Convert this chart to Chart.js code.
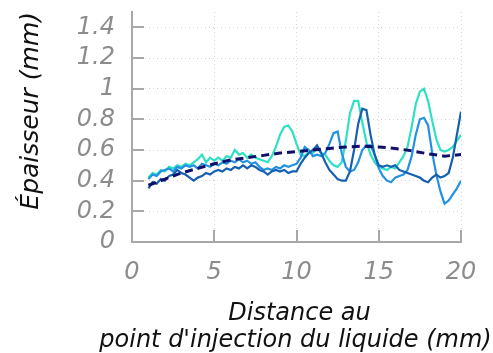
<!DOCTYPE html>
<html>
<head>
<meta charset="utf-8">
<script src="https://cdn.jsdelivr.net/npm/chart.js@4/dist/chart.umd.min.js"></script>
<style>
  html, body { margin: 0; padding: 0; background: #fff; }
  #wrap { width: 493px; height: 353px; }
</style>
</head>
<body>
<div id="wrap"><canvas id="chart"></canvas></div>
<script>
// distance au point d'injection (mm)
const distance = [
  1.0, 1.25, 1.5, 1.75, 2.0, 2.25, 2.5, 2.75, 3.0, 3.25, 3.5, 3.75,
  4.0, 4.25, 4.5, 4.75, 5.0, 5.25, 5.5, 5.75, 6.0, 6.25, 6.5, 6.75,
  7.0, 7.25, 7.5, 7.75, 8.0, 8.25, 8.5, 8.75, 9.0, 9.25, 9.5, 9.75,
  10.0, 10.25, 10.5, 10.75, 11.0, 11.25, 11.5, 11.75, 12.0, 12.25, 12.5, 12.75,
  13.0, 13.25, 13.5, 13.75, 14.0, 14.25, 14.5, 14.75, 15.0, 15.25, 15.5, 15.75,
  16.0, 16.25, 16.5, 16.75, 17.0, 17.25, 17.5, 17.75, 18.0, 18.25, 18.5, 18.75,
  19.0, 19.25, 19.5, 19.75, 20.0
];

// épaisseur (mm), three measurements
const turquoise = [
  0.42, 0.45, 0.44, 0.47, 0.46, 0.49, 0.48, 0.50, 0.49, 0.51, 0.50, 0.52,
  0.54, 0.57, 0.52, 0.55, 0.53, 0.55, 0.53, 0.56, 0.55, 0.60, 0.57, 0.58,
  0.55, 0.57, 0.55, 0.54, 0.53, 0.52, 0.56, 0.62, 0.70, 0.75, 0.76, 0.72,
  0.64, 0.57, 0.56, 0.59, 0.58, 0.61, 0.58, 0.57, 0.53, 0.50, 0.49, 0.52,
  0.66, 0.84, 0.92, 0.92, 0.78, 0.65, 0.57, 0.52, 0.49, 0.48, 0.47, 0.49,
  0.48, 0.52, 0.56, 0.62, 0.75, 0.90, 0.98, 1.00, 0.92, 0.79, 0.67, 0.60,
  0.59, 0.60, 0.62, 0.66, 0.70
];
const blue = [
  0.41, 0.44, 0.43, 0.46, 0.47, 0.48, 0.46, 0.49, 0.48, 0.50, 0.49, 0.50,
  0.48, 0.51, 0.50, 0.49, 0.51, 0.50, 0.52, 0.51, 0.53, 0.52, 0.54, 0.52,
  0.53, 0.51, 0.52, 0.49, 0.47, 0.48, 0.47, 0.49, 0.48, 0.50, 0.49, 0.50,
  0.51, 0.55, 0.62, 0.60, 0.56, 0.57, 0.56, 0.58, 0.64, 0.71, 0.72, 0.58,
  0.49, 0.46, 0.47, 0.52, 0.60, 0.63, 0.63, 0.57, 0.48, 0.43, 0.40, 0.39,
  0.42, 0.43, 0.44, 0.47, 0.56, 0.70, 0.80, 0.81, 0.76, 0.58, 0.44, 0.33,
  0.25, 0.27, 0.31, 0.35, 0.40
];
const darkBlue = [
  0.35, 0.39, 0.38, 0.41, 0.40, 0.43, 0.44, 0.47, 0.45, 0.44, 0.42, 0.40,
  0.42, 0.43, 0.45, 0.44, 0.46, 0.47, 0.46, 0.48, 0.47, 0.49, 0.48, 0.50,
  0.48, 0.50, 0.49, 0.47, 0.46, 0.44, 0.46, 0.47, 0.46, 0.47, 0.45, 0.46,
  0.46, 0.51, 0.55, 0.58, 0.60, 0.63, 0.58, 0.52, 0.47, 0.44, 0.41, 0.40,
  0.40, 0.46, 0.60, 0.77, 0.87, 0.86, 0.70, 0.57, 0.50, 0.49, 0.50, 0.49,
  0.50, 0.47, 0.46, 0.45, 0.44, 0.43, 0.42, 0.40, 0.39, 0.42, 0.44, 0.42,
  0.43, 0.45, 0.55, 0.70, 0.85
];

// smooth fit (dashed)
const fitDistance = [1, 2, 3, 4, 5, 6, 7, 8, 9, 10, 11, 12, 13, 14, 15, 16, 17, 18, 19, 20];
const fit = [
  0.37, 0.41, 0.45, 0.48, 0.51, 0.535, 0.55, 0.565, 0.58, 0.59,
  0.60, 0.61, 0.62, 0.625, 0.62, 0.61, 0.595, 0.575, 0.56, 0.57
];

const yTicks = [0, 0.2, 0.4, 0.6, 0.8, 1, 1.2, 1.4];
const xTicks = [0, 5, 10, 15, 20];
const xTitle = ['Distance au', "point d'injection du liquide (mm)"];

const toPoints = (xs, ys) => xs.map((x, i) => ({x: x, y: ys[i]}));

const tickFont = {family: 'DejaVu Sans', size: 24, style: 'italic'};
const GREY = '#a8a8a8';
const TICK_LEN = 12;

// inward tick marks + the two-line x title (the built-in title squeezes it to the axis width)
const decorations = {
  id: 'decorations',
  afterDraw(chart) {
    const ctx = chart.ctx;
    const area = chart.chartArea;
    const xs = chart.scales.x;
    const ys = chart.scales.y;
    ctx.save();
    ctx.setLineDash([]);
    ctx.strokeStyle = GREY;
    ctx.lineWidth = 2;
    ctx.beginPath();
    yTicks.forEach(v => {
      const py = Math.round(ys.getPixelForValue(v));
      ctx.moveTo(area.left, py);
      ctx.lineTo(area.left + TICK_LEN, py);
    });
    xTicks.forEach(v => {
      const px = Math.round(xs.getPixelForValue(v));
      ctx.moveTo(px, area.bottom);
      ctx.lineTo(px, area.bottom - TICK_LEN);
    });
    ctx.stroke();

    ctx.fillStyle = '#111';
    ctx.font = 'italic 24px "DejaVu Sans"';
    ctx.textAlign = 'center';
    ctx.textBaseline = 'alphabetic';
    const cx = (area.left + area.right) / 2;
    ctx.fillText(xTitle[0], cx + 3, 320);
    ctx.fillText(xTitle[1], cx - 1, 347);
    ctx.restore();
  }
};

new Chart(document.getElementById('chart'), {
  type: 'line',
  plugins: [decorations],
  data: {
    datasets: [
      {data: toPoints(fitDistance, fit), borderColor: '#10106a', borderWidth: 3, borderDash: [8, 5]},
      {data: toPoints(distance, darkBlue), borderColor: '#1560b0', borderWidth: 2.2},
      {data: toPoints(distance, blue), borderColor: '#2492e2', borderWidth: 2.2},
      {data: toPoints(distance, turquoise), borderColor: '#30e0c4', borderWidth: 2.2},
    ],
  },
  options: {
    responsive: true,
    maintainAspectRatio: false,
    animation: false,
    events: [],
    layout: {padding: {left: 0, right: 32, top: 12, bottom: 0}},
    elements: {point: {radius: 0}, line: {tension: 0, fill: false}},
    plugins: {legend: {display: false}, tooltip: {enabled: false}},
    scales: {
      x: {
        type: 'linear',
        min: 0,
        max: 20,
        afterBuildTicks: (scale) => { scale.ticks = xTicks.map(v => ({value: v})); },
        afterFit: (scale) => { scale.height = 111; scale.paddingLeft = 0; scale.paddingRight = 0; },
        ticks: {color: '#8c8c8c', font: tickFont, padding: 16, maxRotation: 0, callback: (v) => String(v)},
        grid: {color: '#d6d6d6', drawTicks: false},
        border: {color: GREY, width: 2, dash: [1, 3]},
      },
      y: {
        min: 0,
        max: 1.5,
        afterBuildTicks: (scale) => { scale.ticks = yTicks.map(v => ({value: v})); },
        afterFit: (scale) => { scale.width = 132; scale.paddingTop = 0; scale.paddingBottom = 0; },
        ticks: {color: '#8c8c8c', font: tickFont, padding: 17, callback: (v) => String(v)},
        grid: {color: '#d6d6d6', drawTicks: false},
        border: {color: GREY, width: 2, dash: [1, 3]},
        title: {
          display: true,
          text: 'Épaisseur (mm)',
          align: 'end',
          color: '#111',
          font: {family: 'DejaVu Sans', size: 25, style: 'italic'},
          padding: {top: 16, bottom: 0},
        },
      },
    },
  },
});
</script>
</body>
</html>
